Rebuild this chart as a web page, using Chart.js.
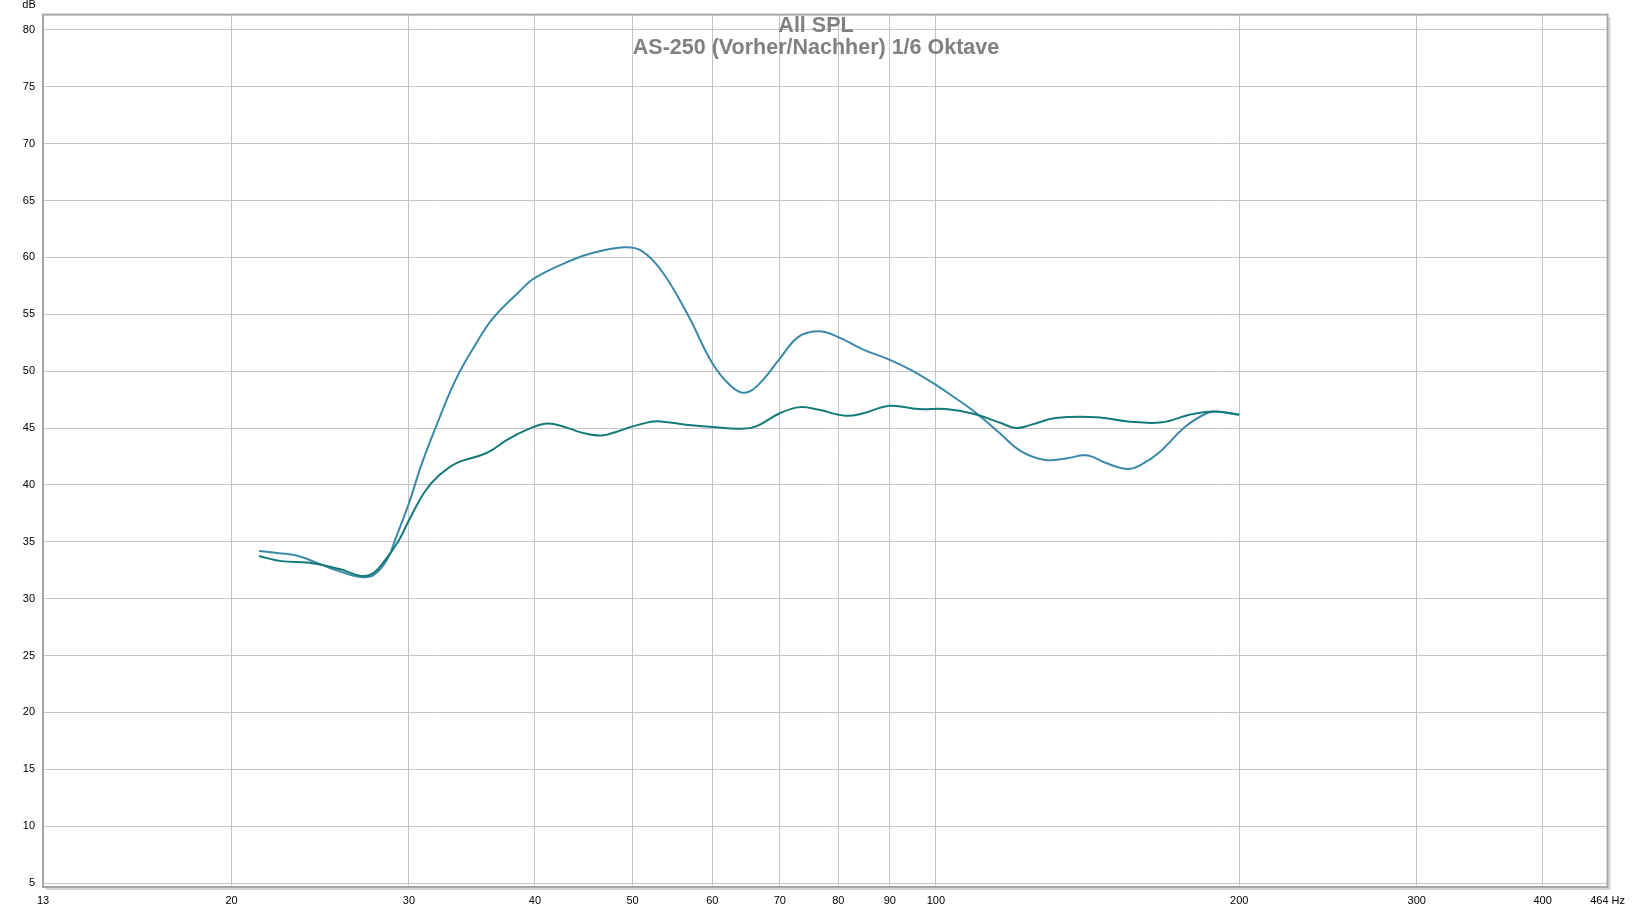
<!DOCTYPE html>
<html>
<head>
<meta charset="utf-8">
<title>All SPL</title>
<script src="https://cdn.jsdelivr.net/npm/chart.js@4.4.1/dist/chart.umd.min.js"></script>
<style>
    html, body { margin: 0; padding: 0; background: #fff; }
    #wrap { width: 1632px; height: 909px; position: relative; }
</style>
</head>
<body>
<div id="wrap"><canvas id="splChart"></canvas></div>
<script>
const vorherFreq = [21.3, 22.3, 23.2, 24.4, 25.6, 26.9, 27.7, 28.6, 29.1, 30.0, 30.9, 32.1, 33.4, 34.9, 36.3, 38.5, 40.0,
    43.5, 45.9, 49.1, 51.0, 53.4, 56.7, 60.0, 62.6, 64.6, 66.9, 70.0, 73.0, 76.5, 80.0, 84.7, 90.0, 94.5, 100,
    103.9, 109.7, 115.5, 121.5, 128.4, 135, 141.1, 147.8, 155, 160, 166.3, 177, 185.6, 189.8, 200];
const vorherSpl = [34.2, 34.0, 33.8, 33.1, 32.4, 31.9, 32.1, 33.6, 35.3, 38.4, 41.9, 45.7, 49.3, 52.3, 54.6, 56.9, 58.2,
    59.75, 60.45, 60.9, 60.6, 58.85, 55.0, 50.7, 48.7, 48.1, 48.95, 51.1, 53.0, 53.5, 53.0, 51.9, 51.0, 50.1, 48.8,
    47.8, 46.3, 44.6, 42.95, 42.2, 42.35, 42.6, 41.9, 41.4, 41.8, 42.8, 45.15, 46.3, 46.45, 46.2];

const nachherFreq = [21.3, 22.4, 23.9, 25.6, 26.9, 27.6, 28.3, 29.3, 30.0, 31.1, 32.1, 33.4, 34.9, 36.0, 37.6, 39.4, 41.1,
    42.8, 44.5, 46.6, 48.3, 50.0, 51.8, 53.0, 56.5, 60.0, 63.9, 66.3, 70.0, 73.3, 76.5, 81.4, 84.7, 90.0, 96.0, 102.3,
    108.9, 116, 120.1, 124.4, 131.4, 144.3, 155, 167.6, 178.5, 188.5, 200];
const nachherSpl = [33.75, 33.3, 33.15, 32.6, 32.0, 32.2, 33.2, 35.1, 36.9, 39.4, 40.8, 41.9, 42.45, 42.9, 44.0, 44.9, 45.4,
    45.1, 44.6, 44.35, 44.7, 45.15, 45.5, 45.6, 45.3, 45.1, 44.94, 45.15, 46.3, 46.84, 46.6, 46.08, 46.3, 46.96, 46.67, 46.67,
    46.26, 45.44, 45.0, 45.3, 45.88, 45.96, 45.58, 45.5, 46.17, 46.46, 46.17];

const xTicks = [13, 20, 30, 40, 50, 60, 70, 80, 90, 100, 200, 300, 400, 464];
const yTicks = [5, 10, 15, 20, 25, 30, 35, 40, 45, 50, 55, 60, 65, 70, 75, 80];

const titleLines = ['All SPL', 'AS-250 (Vorher/Nachher) 1/6 Oktave'];

const GRID_COLOR = '#c4c4c4';
const TICK_FONT = { family: '"Liberation Sans", Arial, sans-serif', size: 11 };

function toPoints(freqs, values) {
    return freqs.map((f, i) => ({ x: f, y: values[i] }));
}

// Rahmen mit Schatten, Titel und "dB"-Beschriftung
const decorPlugin = {
    id: 'decor',
    afterDraw(chart) {
        const ctx = chart.ctx;
        const a = chart.chartArea;
        ctx.save();

        // Schatten rechts / unten
        ctx.strokeStyle = '#d6d6d6';
        ctx.lineWidth = 2;
        ctx.beginPath();
        ctx.moveTo(a.right + 2, a.top + 3);
        ctx.lineTo(a.right + 2, a.bottom + 2);
        ctx.lineTo(a.left + 3, a.bottom + 2);
        ctx.stroke();

        ctx.strokeStyle = '#a6a6a6';
        ctx.lineWidth = 2;
        ctx.strokeRect(a.left, a.top, a.right - a.left, a.bottom - a.top);

        ctx.fillStyle = '#000';
        ctx.font = '11px "Liberation Sans", Arial, sans-serif';
        ctx.textAlign = 'center';
        ctx.textBaseline = 'middle';
        ctx.fillText('dB', 29, 5);

        ctx.fillStyle = '#808080';
        ctx.font = 'bold 21.5px "Liberation Sans", Arial, sans-serif';
        ctx.fillText(titleLines[0], 816, 26);
        ctx.fillText(titleLines[1], 816, 48);
        ctx.restore();
    }
};

const ctx = document.getElementById('splChart').getContext('2d');
const splChart = new Chart(ctx, {
    type: 'line',
    data: {
        datasets: [
            {
                label: 'Nachher',
                data: toPoints(nachherFreq, nachherSpl),
                borderColor: '#137b78',
                borderWidth: 2,
                pointRadius: 0,
                tension: 0.4,
                order: 1,
            },
            {
                label: 'Vorher',
                data: toPoints(vorherFreq, vorherSpl),
                borderColor: '#3a89ab',
                borderWidth: 2,
                pointRadius: 0,
                tension: 0.4,
                order: 2,
            },
        ],
    },
    options: {
        responsive: true,
        maintainAspectRatio: false,
        animation: false,
        layout: {
            padding: { top: 14, right: 20, left: 0, bottom: 0 },
        },
        plugins: {
            legend: { display: false },
            title: { display: false },
            tooltip: { enabled: false },
        },
        scales: {
            x: {
                type: 'logarithmic',
                min: 13,
                max: 464,
                afterBuildTicks: (scale) => {
                    scale.ticks = xTicks.map((v) => ({ value: v }));
                },
                afterFit: (scale) => {
                    scale.height = 22;
                },
                grid: { color: GRID_COLOR, lineWidth: 1, drawTicks: false },
                border: { display: false },
                ticks: {
                    color: '#000',
                    font: TICK_FONT,
                    padding: 7,
                    maxRotation: 0,
                    autoSkip: false,
                    callback: (value) => (value === 464 ? '464 Hz' : String(value)),
                },
            },
            y: {
                type: 'linear',
                min: 4.65,
                max: 81.35,
                afterBuildTicks: (scale) => {
                    scale.ticks = yTicks.map((v) => ({ value: v }));
                },
                afterFit: (scale) => {
                    scale.width = 43;
                },
                grid: { color: GRID_COLOR, lineWidth: 1, drawTicks: false },
                border: { display: false },
                ticks: {
                    color: '#000',
                    font: TICK_FONT,
                    padding: 8,
                    autoSkip: false,
                },
            },
        },
    },
    plugins: [decorPlugin],
});
</script>
</body>
</html>
